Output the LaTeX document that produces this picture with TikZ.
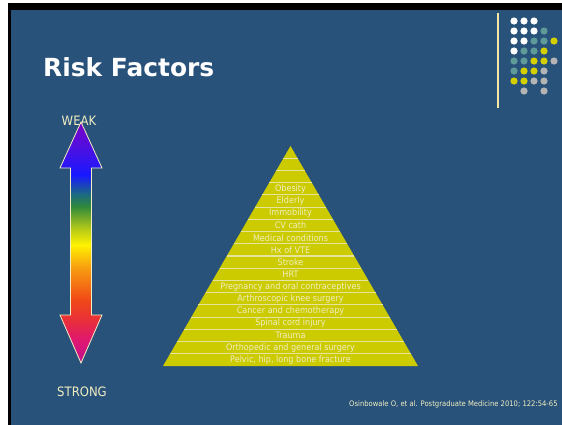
\documentclass[tikz,border=0pt]{standalone}
\usepackage{fontspec}
\setmainfont{DejaVu Sans}
\newfontfamily\slidefont[FakeStretch=0.9]{DejaVu Sans}
\usetikzlibrary{positioning}

\definecolor{slideblue}{HTML}{29527A}
\definecolor{cream}{HTML}{F0EEC2}
\definecolor{pyrfill}{HTML}{CCCB00}
\definecolor{pyrline}{HTML}{E6E49C}
\definecolor{rulecol}{HTML}{F2E6A4}
\definecolor{dotW}{HTML}{FFFFFF}
\definecolor{dotT}{HTML}{5E9A98}
\definecolor{dotY}{HTML}{D4CF00}
\definecolor{dotG}{HTML}{B4B4B4}

% strong (bottom) to weak (top)
\pgfdeclareverticalshading{spectrum}{100bp}{%
  color(0bp)=(rgb,255:red,192;green,16;blue,144);
  color(25bp)=(rgb,255:red,192;green,16;blue,144);
  color(30bp)=(rgb,255:red,224;green,24;blue,110);
  color(34bp)=(rgb,255:red,232;green,48;blue,56);
  color(38bp)=(rgb,255:red,240;green,72;blue,24);
  color(45bp)=(rgb,255:red,248;green,160;blue,16);
  color(49.5bp)=(rgb,255:red,255;green,242;blue,0);
  color(53bp)=(rgb,255:red,176;green,200;blue,24);
  color(57.5bp)=(rgb,255:red,48;green,136;blue,60);
  color(60bp)=(rgb,255:red,28;green,106;blue,128);
  color(64bp)=(rgb,255:red,24;green,24;blue,255);
  color(70bp)=(rgb,255:red,80;green,16;blue,224);
  color(75bp)=(rgb,255:red,122;green,0;blue,196);
  color(100bp)=(rgb,255:red,122;green,0;blue,196)}

\begin{document}
\begin{tikzpicture}[
        x=1bp, y=-1bp,
        title/.style={font=\bfseries\fontsize{25}{28}\selectfont, text=white, inner sep=0pt, anchor=base west},
        scale label/.style={font=\slidefont\fontsize{13}{15}\selectfont, text=cream, inner sep=0pt},
        level/.style={font=\slidefont\fontsize{9}{10}\selectfont, text=cream, inner sep=0pt},
        source/.style={font=\slidefont\fontsize{7.6}{9}\selectfont, text=cream, inner sep=0pt, anchor=west}
    ]
    \useasboundingbox (0,0) rectangle (562,424);

    % Slide
    \fill[black] (7.5,3) rectangle (570,430);
    \fill[slideblue] (11,9.5) rectangle (570,430);
    \draw[rulecol, line width=1.3bp] (498,13) -- (498,108);
    \foreach \cols [count=\i] in {
            {dotW,dotW,dotW,none,none},
            {dotW,dotW,dotW,dotT,none},
            {dotW,dotW,dotT,dotT,dotY},
            {dotW,dotT,dotT,dotY,none},
            {dotT,dotT,dotY,dotY,dotG},
            {dotT,dotY,dotY,dotG,none},
            {dotY,dotY,dotG,dotG,none},
            {none,dotG,none,dotG,none}}
        \foreach \c [count=\j] in \cols
            \path[fill=\c] ({504+10*\j},{11+10*\i}) circle (3.6bp);

    \node[title] (title) at (43,76) {Risk Factors};

    % Strength scale
    \node[scale label] (weak) at (79,121) {WEAK};
    \node[scale label] (strong) at (82,392) {STRONG};
    \coordinate (top tip) at (81,122);
    \coordinate (bottom tip) at (81,363);
    \shadedraw[shading=spectrum, draw=cream, line width=0.8bp, line join=miter]
        (top tip) -- (102,168) -- (91.5,168) -- (91.5,315) -- (102,315)
        -- (bottom tip) -- (60,315) -- (70.5,315) -- (70.5,168) -- (60,168) -- cycle;

    % Pyramid
    \coordinate (apex) at (290.5,146);
    \fill[pyrfill] (apex) -- (418,366) -- (163,366) -- cycle;
    \foreach \k in {1,...,17}
        \draw[pyrline, line width=1.2bp]
            ({290.5-127.5*\k/18},{146+220*\k/18}) -- ({290.5+127.5*\k/18},{146+220*\k/18});
    \foreach \lbl [count=\i] in {Obesity, Elderly, Immobility, CV cath, Medical conditions,
            Hx of VTE, Stroke, HRT, Pregnancy and oral contraceptives,
            Arthroscopic knee surgery, Cancer and chemotherapy, Spinal cord injury,
            Trauma, Orthopedic and general surgery, {Pelvic, hip, long bone fracture}}
        \node[level] (lvl\i) at (290.5,{146+220*(\i+2.5)/18}) {\lbl};

    \node[source] (cite) at (349,404) {Osinbowale O, et al. Postgraduate Medicine 2010; 122:54-65};
\end{tikzpicture}
\end{document}
